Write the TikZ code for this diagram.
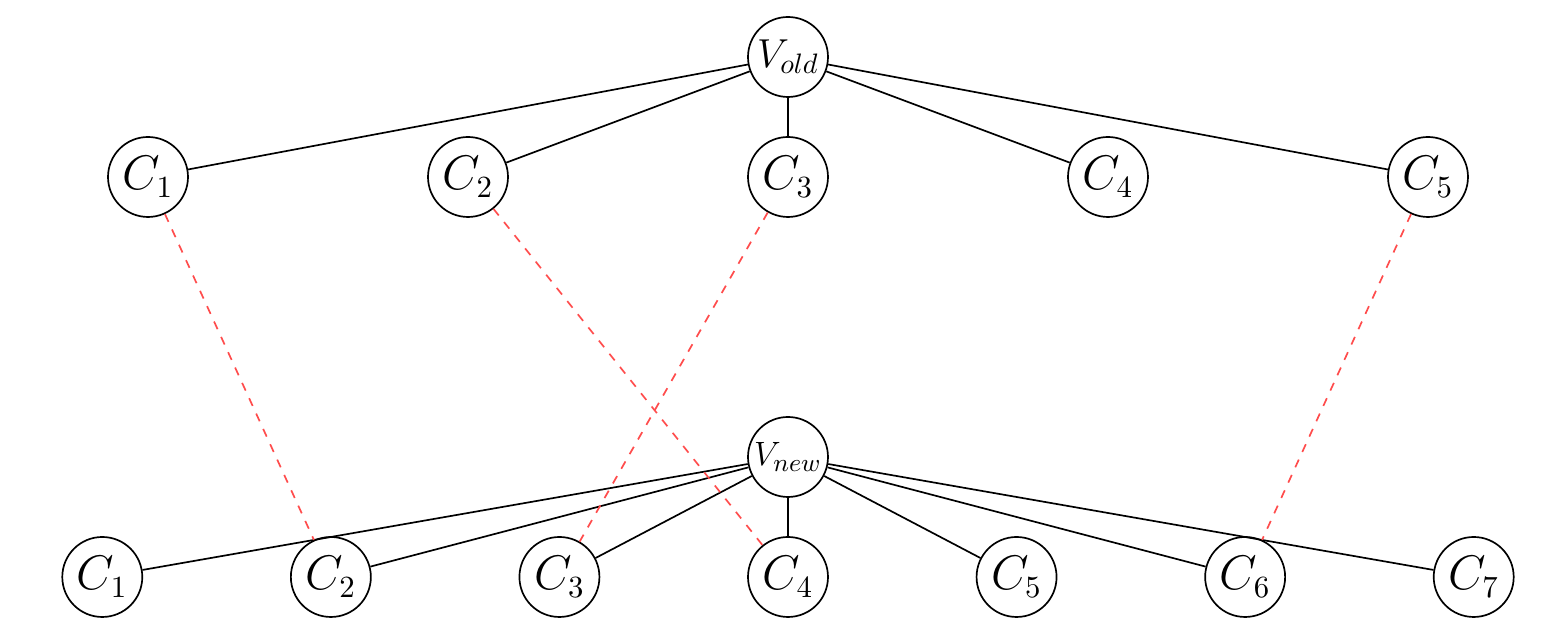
\documentclass[tikz,border=0pt]{standalone}
\usetikzlibrary{positioning}
\tikzset{
  vert/.style={draw, circle, semithick, minimum size=1cm, inner sep=0pt, font=\fontsize{16}{19}\selectfont},
  link/.style={semithick},
  match/.style={dashed, red!70, semithick},
}
\begin{document}
\begin{tikzpicture}
  \useasboundingbox (0,0) rectangle (19.4125,7.975);
  % roots
  \node[vert, font=\Large] (vold) at (9.85,7.2625) {$V_{old}$};
  \node[vert, font=\fontsize{13}{16}\selectfont] (vnew) at (9.85,2.2625) {$V_{new}$};
  % old children
  \foreach \i in {1,...,5} {
    \node[vert] (t\i) at ({9.85+4*(\i-3)},5.7625) {$C_{\i}$};
    \draw[link] (vold) -- (t\i);
  }
  % new children
  \foreach \i in {1,...,7} {
    \node[vert] (b\i) at ({9.85+20/7*(\i-4)},0.7625) {$C_{\i}$};
    \draw[link] (vnew) -- (b\i);
  }
  % matches
  \draw[match] (t1) -- (b2);
  \draw[match] (t2) -- (b4);
  \draw[match] (t3) -- (b3);
  \draw[match] (t5) -- (b6);
\end{tikzpicture}
\end{document}
